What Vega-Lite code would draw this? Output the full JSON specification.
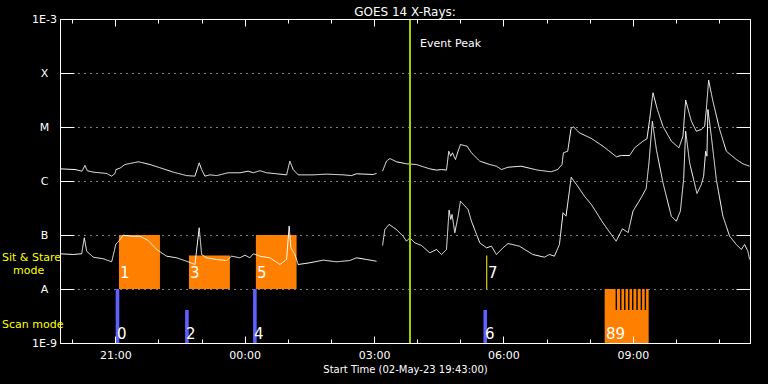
{
  "$schema": "https://vega.github.io/schema/vega-lite/v6.json",
  "autosize": {"type": "none"},
  "width": 690,
  "height": 324,
  "padding": {"left": 60, "top": 19, "right": 18, "bottom": 41},
  "background": "black",
  "title": {"text": "GOES 14 X-Rays:", "color": "white", "font": "DejaVu Sans", "fontSize": 12, "fontWeight": "normal", "offset": -6, "anchor": "middle", "baseline": "bottom", "dy": 12},
  "config": {
    "view": {"stroke": "white", "strokeWidth": 1},
    "axis": {"domainColor": "white", "tickColor": "white", "labelColor": "white", "titleColor": "white", "labelFont": "DejaVu Sans", "titleFont": "DejaVu Sans", "labelFontSize": 11, "titleFontWeight": "normal", "labelFlush": false, "labelOverlap": false, "labelBound": false}
  },
  "datasets": {
    "curves": [
      {"t":19.717,"flux":1.68e-6,"channel":"long","part":1},
      {"t":20.065,"flux":1.63e-6,"channel":"long","part":1},
      {"t":20.227,"flux":1.52e-6,"channel":"long","part":1},
      {"t":20.296,"flux":1.94e-6,"channel":"long","part":1},
      {"t":20.350,"flux":1.55e-6,"channel":"long","part":1},
      {"t":20.482,"flux":1.46e-6,"channel":"long","part":1},
      {"t":20.799,"flux":1.38e-6,"channel":"long","part":1},
      {"t":20.915,"flux":1.23e-6,"channel":"long","part":1},
      {"t":20.992,"flux":1.38e-6,"channel":"long","part":1},
      {"t":21.015,"flux":1.63e-6,"channel":"long","part":1},
      {"t":21.108,"flux":1.73e-6,"channel":"long","part":1},
      {"t":21.223,"flux":2.02e-6,"channel":"long","part":1},
      {"t":21.532,"flux":2.27e-6,"channel":"long","part":1},
      {"t":21.610,"flux":2.20e-6,"channel":"long","part":1},
      {"t":21.803,"flux":2.02e-6,"channel":"long","part":1},
      {"t":22.035,"flux":1.76e-6,"channel":"long","part":1},
      {"t":22.343,"flux":1.46e-6,"channel":"long","part":1},
      {"t":22.653,"flux":1.26e-6,"channel":"long","part":1},
      {"t":22.846,"flux":1.23e-6,"channel":"long","part":1},
      {"t":22.945,"flux":2.17e-6,"channel":"long","part":1},
      {"t":23.001,"flux":1.63e-6,"channel":"long","part":1},
      {"t":23.077,"flux":1.23e-6,"channel":"long","part":1},
      {"t":23.193,"flux":1.30e-6,"channel":"long","part":1},
      {"t":23.349,"flux":1.26e-6,"channel":"long","part":1},
      {"t":23.617,"flux":1.42e-6,"channel":"long","part":1},
      {"t":23.889,"flux":1.42e-6,"channel":"long","part":1},
      {"t":24.081,"flux":1.52e-6,"channel":"long","part":1},
      {"t":24.197,"flux":1.42e-6,"channel":"long","part":1},
      {"t":24.352,"flux":1.55e-6,"channel":"long","part":1},
      {"t":24.507,"flux":1.42e-6,"channel":"long","part":1},
      {"t":24.739,"flux":1.36e-6,"channel":"long","part":1},
      {"t":24.971,"flux":1.30e-6,"channel":"long","part":1},
      {"t":25.047,"flux":2.33e-6,"channel":"long","part":1},
      {"t":25.124,"flux":1.63e-6,"channel":"long","part":1},
      {"t":25.240,"flux":1.30e-6,"channel":"long","part":1},
      {"t":25.587,"flux":1.30e-6,"channel":"long","part":1},
      {"t":25.898,"flux":1.34e-6,"channel":"long","part":1},
      {"t":26.283,"flux":1.30e-6,"channel":"long","part":1},
      {"t":26.477,"flux":1.26e-6,"channel":"long","part":1},
      {"t":26.593,"flux":1.36e-6,"channel":"long","part":1},
      {"t":26.978,"flux":1.32e-6,"channel":"long","part":1},
      {"t":27.057,"flux":1.38e-6,"channel":"long","part":1},
      {"t":27.196,"flux":1.52e-6,"channel":"long","part":2},
      {"t":27.288,"flux":2.33e-6,"channel":"long","part":2},
      {"t":27.365,"flux":2.61e-6,"channel":"long","part":2},
      {"t":27.520,"flux":2.27e-6,"channel":"long","part":2},
      {"t":27.752,"flux":2.08e-6,"channel":"long","part":2},
      {"t":27.984,"flux":2.02e-6,"channel":"long","part":2},
      {"t":28.099,"flux":1.88e-6,"channel":"long","part":2},
      {"t":28.292,"flux":1.68e-6,"channel":"long","part":2},
      {"t":28.447,"flux":1.59e-6,"channel":"long","part":2},
      {"t":28.563,"flux":1.63e-6,"channel":"long","part":2},
      {"t":28.679,"flux":1.59e-6,"channel":"long","part":2},
      {"t":28.732,"flux":3.56e-6,"channel":"long","part":2},
      {"t":28.778,"flux":2.88e-6,"channel":"long","part":2},
      {"t":28.818,"flux":3.33e-6,"channel":"long","part":2},
      {"t":28.887,"flux":2.50e-6,"channel":"long","part":2},
      {"t":28.948,"flux":3.56e-6,"channel":"long","part":2},
      {"t":29.003,"flux":4.74e-6,"channel":"long","part":2},
      {"t":29.156,"flux":4.41e-6,"channel":"long","part":2},
      {"t":29.258,"flux":3.33e-6,"channel":"long","part":2},
      {"t":29.451,"flux":2.33e-6,"channel":"long","part":2},
      {"t":29.682,"flux":2.02e-6,"channel":"long","part":2},
      {"t":29.837,"flux":1.88e-6,"channel":"long","part":2},
      {"t":29.953,"flux":1.63e-6,"channel":"long","part":2},
      {"t":30.106,"flux":1.80e-6,"channel":"long","part":2},
      {"t":30.408,"flux":1.88e-6,"channel":"long","part":2},
      {"t":30.795,"flux":1.59e-6,"channel":"long","part":2},
      {"t":31.103,"flux":1.48e-6,"channel":"long","part":2},
      {"t":31.258,"flux":1.63e-6,"channel":"long","part":2},
      {"t":31.358,"flux":2.02e-6,"channel":"long","part":2},
      {"t":31.390,"flux":3.33e-6,"channel":"long","part":2},
      {"t":31.490,"flux":3.56e-6,"channel":"long","part":2},
      {"t":31.567,"flux":9.38e-6,"channel":"long","part":2},
      {"t":31.622,"flux":1.01e-5,"channel":"long","part":2},
      {"t":31.761,"flux":7.81e-6,"channel":"long","part":2},
      {"t":32.039,"flux":6.12e-6,"channel":"long","part":2},
      {"t":32.308,"flux":4.41e-6,"channel":"long","part":2},
      {"t":32.619,"flux":2.81e-6,"channel":"long","part":2},
      {"t":32.734,"flux":2.97e-6,"channel":"long","part":2},
      {"t":32.927,"flux":2.97e-6,"channel":"long","part":2},
      {"t":33.043,"flux":4.12e-6,"channel":"long","part":2},
      {"t":33.235,"flux":5.46e-6,"channel":"long","part":2},
      {"t":33.328,"flux":6.05e-6,"channel":"long","part":2},
      {"t":33.390,"flux":1.38e-5,"channel":"long","part":2},
      {"t":33.467,"flux":4.30e-5,"channel":"long","part":2},
      {"t":33.569,"flux":2.11e-5,"channel":"long","part":2},
      {"t":33.698,"flux":1.03e-5,"channel":"long","part":2},
      {"t":33.893,"flux":5.46e-6,"channel":"long","part":2},
      {"t":34.069,"flux":4.12e-6,"channel":"long","part":2},
      {"t":34.162,"flux":6.76e-6,"channel":"long","part":2},
      {"t":34.225,"flux":3.14e-5,"channel":"long","part":2},
      {"t":34.357,"flux":1.28e-5,"channel":"long","part":2},
      {"t":34.472,"flux":8.36e-6,"channel":"long","part":2},
      {"t":34.588,"flux":8.99e-6,"channel":"long","part":2},
      {"t":34.665,"flux":1.03e-5,"channel":"long","part":2},
      {"t":34.704,"flux":2.11e-5,"channel":"long","part":2},
      {"t":34.758,"flux":7.36e-5,"channel":"long","part":2},
      {"t":34.857,"flux":3.00e-5,"channel":"long","part":2},
      {"t":35.013,"flux":8.99e-6,"channel":"long","part":2},
      {"t":35.168,"flux":3.56e-6,"channel":"long","part":2},
      {"t":35.400,"flux":2.50e-6,"channel":"long","part":2},
      {"t":35.553,"flux":2.08e-6,"channel":"long","part":2},
      {"t":35.708,"flux":1.88e-6,"channel":"long","part":2},
      {"t":19.717,"flux":4.49e-8,"channel":"short","part":1},
      {"t":20.025,"flux":4.36e-8,"channel":"short","part":1},
      {"t":20.220,"flux":4.49e-8,"channel":"short","part":1},
      {"t":20.280,"flux":8.87e-8,"channel":"short","part":1},
      {"t":20.336,"flux":5.01e-8,"channel":"short","part":1},
      {"t":20.489,"flux":3.88e-8,"channel":"short","part":1},
      {"t":20.720,"flux":3.63e-8,"channel":"short","part":1},
      {"t":20.915,"flux":3.19e-8,"channel":"short","part":1},
      {"t":20.975,"flux":5.01e-8,"channel":"short","part":1},
      {"t":21.008,"flux":6.67e-8,"channel":"short","part":1},
      {"t":21.091,"flux":7.91e-8,"channel":"short","part":1},
      {"t":21.184,"flux":9.92e-8,"channel":"short","part":1},
      {"t":21.379,"flux":9.50e-8,"channel":"short","part":1},
      {"t":21.571,"flux":9.50e-8,"channel":"short","part":1},
      {"t":21.763,"flux":7.91e-8,"channel":"short","part":1},
      {"t":21.958,"flux":5.39e-8,"channel":"short","part":1},
      {"t":22.190,"flux":4.05e-8,"channel":"short","part":1},
      {"t":22.422,"flux":3.78e-8,"channel":"short","part":1},
      {"t":22.653,"flux":3.27e-8,"channel":"short","part":1},
      {"t":22.846,"flux":2.84e-8,"channel":"short","part":1},
      {"t":22.945,"flux":1.36e-7,"channel":"short","part":1},
      {"t":23.001,"flux":4.36e-8,"channel":"short","part":1},
      {"t":23.117,"flux":3.78e-8,"channel":"short","part":1},
      {"t":23.349,"flux":3.52e-8,"channel":"short","part":1},
      {"t":23.580,"flux":3.37e-8,"channel":"short","part":1},
      {"t":23.696,"flux":4.05e-8,"channel":"short","part":1},
      {"t":23.889,"flux":3.78e-8,"channel":"short","part":1},
      {"t":24.004,"flux":4.23e-8,"channel":"short","part":1},
      {"t":24.120,"flux":3.78e-8,"channel":"short","part":1},
      {"t":24.197,"flux":4.49e-8,"channel":"short","part":1},
      {"t":24.352,"flux":4.05e-8,"channel":"short","part":1},
      {"t":24.584,"flux":3.78e-8,"channel":"short","part":1},
      {"t":24.816,"flux":2.84e-8,"channel":"short","part":1},
      {"t":24.971,"flux":3.52e-8,"channel":"short","part":1},
      {"t":25.031,"flux":1.46e-7,"channel":"short","part":1},
      {"t":25.070,"flux":5.79e-8,"channel":"short","part":1},
      {"t":25.163,"flux":4.36e-8,"channel":"short","part":1},
      {"t":25.240,"flux":2.84e-8,"channel":"short","part":1},
      {"t":25.511,"flux":3.06e-8,"channel":"short","part":1},
      {"t":25.819,"flux":3.42e-8,"channel":"short","part":1},
      {"t":26.130,"flux":3.19e-8,"channel":"short","part":1},
      {"t":26.438,"flux":3.37e-8,"channel":"short","part":1},
      {"t":26.593,"flux":3.78e-8,"channel":"short","part":1},
      {"t":26.825,"flux":3.52e-8,"channel":"short","part":1},
      {"t":27.057,"flux":3.27e-8,"channel":"short","part":1},
      {"t":27.196,"flux":6.39e-8,"channel":"short","part":2},
      {"t":27.249,"flux":1.26e-7,"channel":"short","part":2},
      {"t":27.349,"flux":1.57e-7,"channel":"short","part":2},
      {"t":27.520,"flux":1.26e-7,"channel":"short","part":2},
      {"t":27.673,"flux":9.50e-8,"channel":"short","part":2},
      {"t":27.752,"flux":7.68e-8,"channel":"short","part":2},
      {"t":27.828,"flux":8.87e-8,"channel":"short","part":2},
      {"t":27.944,"flux":7.17e-8,"channel":"short","part":2},
      {"t":28.099,"flux":6.39e-8,"channel":"short","part":2},
      {"t":28.292,"flux":4.68e-8,"channel":"short","part":2},
      {"t":28.447,"flux":5.39e-8,"channel":"short","part":2},
      {"t":28.563,"flux":4.36e-8,"channel":"short","part":2},
      {"t":28.679,"flux":5.39e-8,"channel":"short","part":2},
      {"t":28.739,"flux":2.88e-7,"channel":"short","part":2},
      {"t":28.778,"flux":1.94e-7,"channel":"short","part":2},
      {"t":28.809,"flux":2.40e-7,"channel":"short","part":2},
      {"t":28.871,"flux":1.10e-7,"channel":"short","part":2},
      {"t":28.948,"flux":2.23e-7,"channel":"short","part":2},
      {"t":29.003,"flux":4.23e-7,"channel":"short","part":2},
      {"t":29.179,"flux":2.97e-7,"channel":"short","part":2},
      {"t":29.258,"flux":1.80e-7,"channel":"short","part":2},
      {"t":29.451,"flux":7.17e-8,"channel":"short","part":2},
      {"t":29.606,"flux":5.79e-8,"channel":"short","part":2},
      {"t":29.722,"flux":6.20e-8,"channel":"short","part":2},
      {"t":29.837,"flux":4.36e-8,"channel":"short","part":2},
      {"t":29.990,"flux":5.79e-8,"channel":"short","part":2},
      {"t":30.106,"flux":6.96e-8,"channel":"short","part":2},
      {"t":30.371,"flux":6.20e-8,"channel":"short","part":2},
      {"t":30.679,"flux":4.36e-8,"channel":"short","part":2},
      {"t":30.950,"flux":3.88e-8,"channel":"short","part":2},
      {"t":31.066,"flux":4.36e-8,"channel":"short","part":2},
      {"t":31.182,"flux":4.05e-8,"channel":"short","part":2},
      {"t":31.298,"flux":6.67e-8,"channel":"short","part":2},
      {"t":31.381,"flux":2.58e-7,"channel":"short","part":2},
      {"t":31.451,"flux":2.23e-7,"channel":"short","part":2},
      {"t":31.571,"flux":1.17e-6,"channel":"short","part":2},
      {"t":31.722,"flux":8.01e-7,"channel":"short","part":2},
      {"t":31.877,"flux":5.23e-7,"channel":"short","part":2},
      {"t":32.039,"flux":3.67e-7,"channel":"short","part":2},
      {"t":32.308,"flux":1.68e-7,"channel":"short","part":2},
      {"t":32.417,"flux":1.26e-7,"channel":"short","part":2},
      {"t":32.614,"flux":7.68e-8,"channel":"short","part":2},
      {"t":32.758,"flux":1.30e-7,"channel":"short","part":2},
      {"t":32.892,"flux":1.11e-7,"channel":"short","part":2},
      {"t":33.003,"flux":2.76e-7,"channel":"short","part":2},
      {"t":33.193,"flux":4.89e-7,"channel":"short","part":2},
      {"t":33.309,"flux":7.26e-7,"channel":"short","part":2},
      {"t":33.374,"flux":2.17e-6,"channel":"short","part":2},
      {"t":33.453,"flux":1.28e-5,"channel":"short","part":2},
      {"t":33.546,"flux":3.83e-6,"channel":"short","part":2},
      {"t":33.699,"flux":9.26e-7,"channel":"short","part":2},
      {"t":33.893,"flux":2.23e-7,"channel":"short","part":2},
      {"t":34.009,"flux":1.80e-7,"channel":"short","part":2},
      {"t":34.102,"flux":2.76e-7,"channel":"short","part":2},
      {"t":34.178,"flux":1.07e-6,"channel":"short","part":2},
      {"t":34.225,"flux":8.36e-6,"channel":"short","part":2},
      {"t":34.317,"flux":2.17e-6,"channel":"short","part":2},
      {"t":34.487,"flux":5.87e-7,"channel":"short","part":2},
      {"t":34.588,"flux":8.61e-7,"channel":"short","part":2},
      {"t":34.642,"flux":1.23e-6,"channel":"short","part":2},
      {"t":34.688,"flux":3.56e-6,"channel":"short","part":2},
      {"t":34.718,"flux":2.88e-6,"channel":"short","part":2},
      {"t":34.741,"flux":2.11e-5,"channel":"short","part":2},
      {"t":34.820,"flux":6.76e-6,"channel":"short","part":2},
      {"t":34.936,"flux":1.07e-6,"channel":"short","part":2},
      {"t":35.089,"flux":2.23e-7,"channel":"short","part":2},
      {"t":35.244,"flux":9.50e-8,"channel":"short","part":2},
      {"t":35.400,"flux":6.67e-8,"channel":"short","part":2},
      {"t":35.515,"flux":5.39e-8,"channel":"short","part":2},
      {"t":35.592,"flux":6.67e-8,"channel":"short","part":2},
      {"t":35.668,"flux":5.01e-8,"channel":"short","part":2},
      {"t":35.708,"flux":3.52e-8,"channel":"short","part":2}
    ],
    "stare": [
      {"t":21.084,"t2":22.035,"flux":1e-8,"flux2":1e-7},
      {"t":22.707,"t2":23.657,"flux":1e-8,"flux2":4.17e-8},
      {"t":24.259,"t2":25.203,"flux":1e-8,"flux2":1e-7},
      {"t":32.347,"t2":33.367,"flux":1e-9,"flux2":1e-8}
    ],
    "scan": [
      {"t":21.050,"flux":1e-9,"flux2":1e-8},
      {"t":22.660,"flux":1e-9,"flux2":4.08e-9},
      {"t":24.236,"flux":1e-9,"flux2":1e-8},
      {"t":29.578,"flux":1e-9,"flux2":4.08e-9}
    ],
    "stare7": [
      {"t":29.613,"flux":1e-8,"flux2":4.17e-8}
    ],
    "gaps": [
      {"t":32.617,"flux":4.08e-9,"flux2":1e-8},
      {"t":32.720,"flux":4.08e-9,"flux2":1e-8},
      {"t":32.813,"flux":4.08e-9,"flux2":1e-8},
      {"t":32.906,"flux":4.08e-9,"flux2":1e-8},
      {"t":32.998,"flux":4.08e-9,"flux2":1e-8},
      {"t":33.098,"flux":4.08e-9,"flux2":1e-8},
      {"t":33.198,"flux":4.08e-9,"flux2":1e-8},
      {"t":33.291,"flux":4.08e-9,"flux2":1e-8}
    ],
    "numbers": [
      {"t":21.108,"flux":1.63e-8,"label":"1"},
      {"t":22.731,"flux":1.63e-8,"label":"3"},
      {"t":24.285,"flux":1.63e-8,"label":"5"},
      {"t":29.642,"flux":1.63e-8,"label":"7"},
      {"t":21.039,"flux":1.19e-9,"label":"0"},
      {"t":22.639,"flux":1.19e-9,"label":"2"},
      {"t":24.216,"flux":1.19e-9,"label":"4"},
      {"t":29.572,"flux":1.19e-9,"label":"6"},
      {"t":32.378,"flux":1.19e-9,"label":"89"}
    ],
    "peak": [
      {"t":27.833,"flux":3.03e-4,"label":"Event Peak"}
    ],
    "modes": [
      {"t":19.717,"flux":3.37e-8,"label":"Sit & Stare"},
      {"t":19.717,"flux":1.90e-9,"label":"Scan mode"}
    ],
    "modes2": [
      {"t":19.717,"flux":1.86e-8,"label":"mode"}
    ]
  },
  "layer": [
    {
      "data": {"name": "stare"},
      "mark": {"type": "rect", "color": "#ff8000"},
      "encoding": {
        "x": {"field": "t", "type": "quantitative", "scale": {"domain": [19.717, 35.717], "nice": false, "zero": false},
              "axis": {"orient": "top", "values": [20,21,22,23,24,25,26,27,28,29,30,31,32,33,34,35], "labels": false, "title": null, "grid": false, "zindex": 1,
                       "tickSize": {"condition": {"test": "datum.value % 3 == 0", "value": -7}, "value": -4}}},
        "x2": {"field": "t2"},
        "y": {"field": "flux", "type": "quantitative", "scale": {"type": "log", "domain": [1e-9, 1e-3], "nice": false},
              "axis": {"orient": "right", "values": [1e-9,1e-8,1e-7,1e-6,1e-5,1e-4,1e-3], "labels": false, "title": null, "grid": false, "tickSize": -14, "zindex": 1}},
        "y2": {"field": "flux2"}
      }
    },
    {
      "data": {"name": "scan"},
      "mark": {"type": "rule", "color": "#6060ff", "strokeWidth": 3.6},
      "encoding": {
        "x": {"field": "t", "type": "quantitative", "scale": {"domain": [19.717, 35.717], "nice": false, "zero": false}, "axis": null},
        "y": {"field": "flux", "type": "quantitative", "scale": {"type": "log", "domain": [1e-9, 1e-3], "nice": false}, "axis": null},
        "y2": {"field": "flux2"}
      }
    },
    {
      "data": {"name": "stare7"},
      "mark": {"type": "rule", "color": "#ffff00", "strokeWidth": 1},
      "encoding": {
        "x": {"field": "t", "type": "quantitative", "scale": {"domain": [19.717, 35.717], "nice": false, "zero": false}, "axis": null},
        "y": {"field": "flux", "type": "quantitative", "scale": {"type": "log", "domain": [1e-9, 1e-3], "nice": false}, "axis": null},
        "y2": {"field": "flux2"}
      }
    },
    {
      "data": {"name": "gaps"},
      "mark": {"type": "rule", "color": "black", "strokeWidth": 1.4},
      "encoding": {
        "x": {"field": "t", "type": "quantitative", "scale": {"domain": [19.717, 35.717], "nice": false, "zero": false}, "axis": null},
        "y": {"field": "flux", "type": "quantitative", "scale": {"type": "log", "domain": [1e-9, 1e-3], "nice": false}, "axis": null},
        "y2": {"field": "flux2"}
      }
    },
    {
      "data": {"name": "curves"},
      "mark": {"type": "line", "color": "white", "strokeWidth": 1},
      "encoding": {
        "x": {"field": "t", "type": "quantitative", "scale": {"domain": [19.717, 35.717], "nice": false, "zero": false},
              "axis": {"orient": "bottom", "values": [20,21,22,23,24,25,26,27,28,29,30,31,32,33,34,35],
                       "labelExpr": "datum.value % 3 == 0 ? format(datum.value % 24, '02d') + ':00' : ''",
                       "tickSize": {"condition": {"test": "datum.value % 3 == 0", "value": -7}, "value": -4},
                       "labelPadding": 13, "labelBaseline": "top",
                       "title": "Start Time (02-May-23 19:43:00)", "titleFontSize": 10, "titlePadding": 1, "grid": false, "zindex": 1}},
        "y": {"field": "flux", "type": "quantitative", "scale": {"type": "log", "domain": [1e-9, 1e-3], "nice": false},
              "axis": {"orient": "left", "values": [1e-9,1e-8,1e-7,1e-6,1e-5,1e-4,1e-3],
                       "labelExpr": "['1E-9','A','B','C','M','X','1E-3'][round(log(datum.value)/LN10)+9]",
                       "tickSize": -14, "labelPadding": 30, "labelAlign": "center", "labelBaseline": "middle",
                       "title": null, "grid": true, "gridColor": "white", "gridDash": [1, 5], "gridWidth": 1, "zindex": 0}},
        "detail": {"field": "channel"},
        "strokeDash": {"field": "part", "type": "nominal", "legend": null, "scale": {"range": [[1, 0], [1, 0]]}}
      }
    },
    {
      "data": {"name": "peak"},
      "mark": {"type": "rule", "color": "#a0d000", "strokeWidth": 2},
      "encoding": {
        "x": {"field": "t", "type": "quantitative", "scale": {"domain": [19.717, 35.717], "nice": false, "zero": false}, "axis": null}
      }
    },
    {
      "data": {"name": "peak"},
      "mark": {"type": "text", "color": "white", "font": "DejaVu Sans", "fontSize": 11, "align": "left", "baseline": "alphabetic", "dx": 10},
      "encoding": {
        "x": {"field": "t", "type": "quantitative", "scale": {"domain": [19.717, 35.717], "nice": false, "zero": false}, "axis": null},
        "y": {"field": "flux", "type": "quantitative", "scale": {"type": "log", "domain": [1e-9, 1e-3], "nice": false}, "axis": null},
        "text": {"field": "label"}
      }
    },
    {
      "data": {"name": "numbers"},
      "mark": {"type": "text", "color": "white", "font": "DejaVu Sans", "fontSize": 15, "align": "left", "baseline": "alphabetic"},
      "encoding": {
        "x": {"field": "t", "type": "quantitative", "scale": {"domain": [19.717, 35.717], "nice": false, "zero": false}, "axis": null},
        "y": {"field": "flux", "type": "quantitative", "scale": {"type": "log", "domain": [1e-9, 1e-3], "nice": false}, "axis": null},
        "text": {"field": "label"}
      }
    },
    {
      "data": {"name": "modes"},
      "mark": {"type": "text", "color": "#ffff00", "font": "DejaVu Sans", "fontSize": 11, "align": "left", "baseline": "alphabetic", "dx": -58},
      "encoding": {
        "x": {"field": "t", "type": "quantitative", "scale": {"domain": [19.717, 35.717], "nice": false, "zero": false}, "axis": null},
        "y": {"field": "flux", "type": "quantitative", "scale": {"type": "log", "domain": [1e-9, 1e-3], "nice": false}, "axis": null},
        "text": {"field": "label"}
      }
    },
    {
      "data": {"name": "modes2"},
      "mark": {"type": "text", "color": "#ffff00", "font": "DejaVu Sans", "fontSize": 11, "align": "left", "baseline": "alphabetic", "dx": -47},
      "encoding": {
        "x": {"field": "t", "type": "quantitative", "scale": {"domain": [19.717, 35.717], "nice": false, "zero": false}, "axis": null},
        "y": {"field": "flux", "type": "quantitative", "scale": {"type": "log", "domain": [1e-9, 1e-3], "nice": false}, "axis": null},
        "text": {"field": "label"}
      }
    }
  ],
  "resolve": {"axis": {"x": "independent", "y": "independent"}}
}
